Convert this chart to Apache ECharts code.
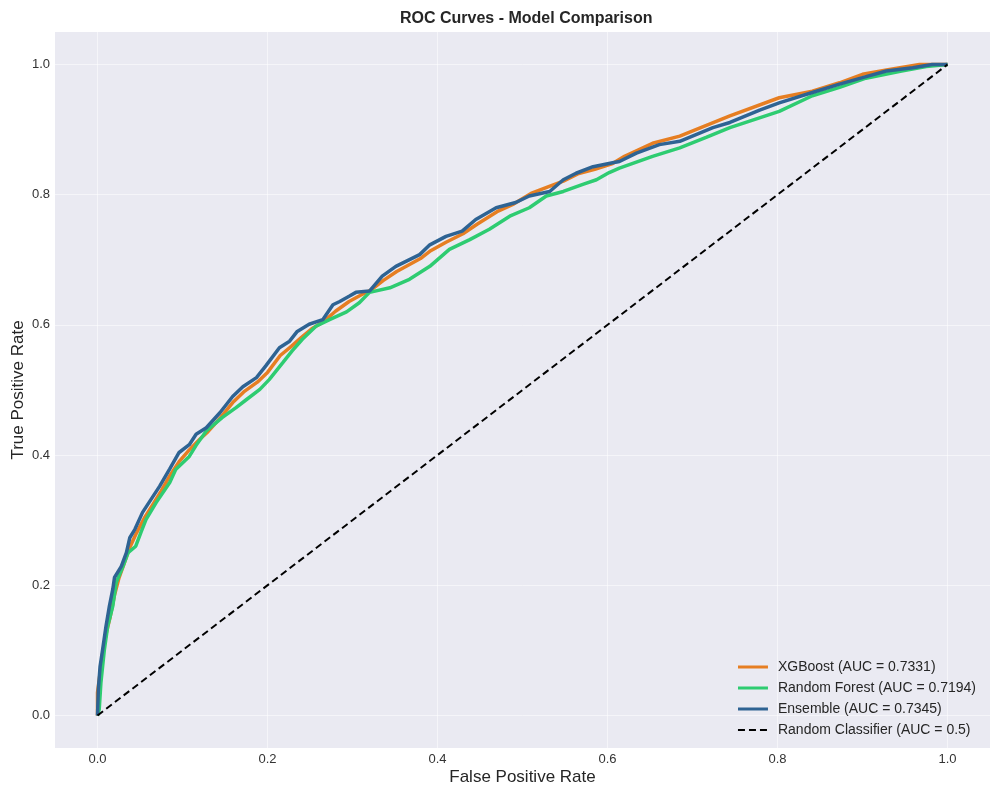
<!DOCTYPE html>
<html>
<head>
<meta charset="utf-8">
<script src="https://cdn.jsdelivr.net/npm/echarts@6/dist/echarts.min.js"></script>
<style>
  html, body { margin: 0; padding: 0; background: #fff; }
  #roc { width: 1000px; height: 798px; }
</style>
</head>
<body>
<div id="roc"></div>
<script>
// values: [fpr, tpr]
var xgbPoints = [
    [0, 0], [0, 0.035], [0.003, 0.065], [0.006, 0.095], [0.010, 0.125], [0.015, 0.152],
    [0.020, 0.185], [0.025, 0.21], [0.032, 0.236], [0.038, 0.258], [0.045, 0.278],
    [0.055, 0.303], [0.065, 0.324], [0.075, 0.345], [0.085, 0.368], [0.096, 0.39],
    [0.108, 0.408], [0.12, 0.424], [0.13, 0.436], [0.145, 0.458], [0.16, 0.482],
    [0.172, 0.497], [0.188, 0.512], [0.2, 0.527], [0.215, 0.553], [0.228, 0.567],
    [0.24, 0.581], [0.252, 0.594], [0.265, 0.604], [0.28, 0.621], [0.296, 0.636],
    [0.31, 0.646], [0.322, 0.654], [0.336, 0.668], [0.352, 0.682], [0.38, 0.702],
    [0.392, 0.714], [0.41, 0.727], [0.43, 0.74], [0.447, 0.755], [0.47, 0.774],
    [0.49, 0.786], [0.51, 0.802], [0.53, 0.812], [0.548, 0.821], [0.565, 0.832],
    [0.585, 0.839], [0.606, 0.848], [0.62, 0.859], [0.653, 0.879], [0.685, 0.89],
    [0.744, 0.921], [0.802, 0.949], [0.841, 0.959], [0.873, 0.972], [0.9, 0.985],
    [0.93, 0.992], [0.967, 1.0], [1, 1]
];
var rfPoints = [
    [0, 0], [0.002, 0.009], [0.004, 0.05], [0.008, 0.10], [0.012, 0.137], [0.018, 0.168],
    [0.022, 0.204], [0.030, 0.229], [0.036, 0.25], [0.045, 0.26], [0.051, 0.281],
    [0.057, 0.301], [0.069, 0.327], [0.085, 0.358], [0.092, 0.378], [0.1, 0.388],
    [0.108, 0.398], [0.116, 0.415], [0.128, 0.437], [0.147, 0.458], [0.163, 0.473],
    [0.175, 0.485], [0.191, 0.501], [0.202, 0.516], [0.218, 0.542], [0.229, 0.56],
    [0.241, 0.578], [0.257, 0.598], [0.273, 0.608], [0.293, 0.62], [0.308, 0.634],
    [0.32, 0.65], [0.344, 0.657], [0.367, 0.67], [0.391, 0.69], [0.414, 0.716],
    [0.438, 0.731], [0.461, 0.747], [0.485, 0.767], [0.508, 0.78], [0.528, 0.798],
    [0.548, 0.805], [0.571, 0.816], [0.587, 0.823], [0.602, 0.834], [0.614, 0.841],
    [0.653, 0.859], [0.685, 0.872], [0.716, 0.888], [0.744, 0.903], [0.802, 0.928],
    [0.841, 0.952], [0.873, 0.965], [0.904, 0.979], [0.946, 0.99], [0.975, 0.997], [1, 1]
];
var ensPoints = [
    [0, 0], [0.001, 0.04], [0.003, 0.075], [0.006, 0.101], [0.010, 0.137], [0.014, 0.168],
    [0.018, 0.194], [0.020, 0.212], [0.028, 0.229], [0.034, 0.25], [0.038, 0.273],
    [0.044, 0.286], [0.053, 0.312], [0.063, 0.332], [0.073, 0.352], [0.085, 0.379],
    [0.096, 0.404], [0.108, 0.416], [0.116, 0.432], [0.128, 0.442], [0.144, 0.465],
    [0.159, 0.49], [0.171, 0.505], [0.187, 0.519], [0.198, 0.537], [0.214, 0.565],
    [0.226, 0.575], [0.235, 0.59], [0.249, 0.601], [0.265, 0.608], [0.277, 0.631],
    [0.285, 0.636], [0.296, 0.644], [0.304, 0.65], [0.32, 0.652], [0.335, 0.675],
    [0.351, 0.69], [0.379, 0.708], [0.391, 0.723], [0.41, 0.736], [0.429, 0.744],
    [0.445, 0.762], [0.469, 0.78], [0.492, 0.788], [0.508, 0.798], [0.532, 0.805],
    [0.548, 0.823], [0.563, 0.833], [0.583, 0.843], [0.606, 0.849], [0.614, 0.851],
    [0.634, 0.864], [0.661, 0.877], [0.685, 0.882], [0.724, 0.903], [0.744, 0.911],
    [0.779, 0.93], [0.802, 0.941], [0.841, 0.957], [0.873, 0.97], [0.9, 0.98],
    [0.928, 0.99], [0.959, 0.995], [0.982, 1.0], [1, 1]
];
var randomPoints = [[0, 0], [1, 1]];
var tickValues = [0, 0.2, 0.4, 0.6, 0.8, 1.0];
var seriesNames = ['XGBoost (AUC = 0.7331)', 'Random Forest (AUC = 0.7194)', 'Ensemble (AUC = 0.7345)', 'Random Classifier (AUC = 0.5)'];

var font = 'Liberation Sans, Arial, sans-serif';

function valueAxis(name, gap, rotate) {
    return {
        type: 'value',
        min: -0.05,
        max: 1.05,
        name: name,
        nameLocation: 'middle',
        nameGap: gap,
        nameRotate: rotate,
        nameMoveOverlap: false,
        nameTextStyle: {fontFamily: font, fontSize: 17, color: '#262626'},
        axisLine: {show: false},
        axisTick: {show: false, customValues: tickValues},
        axisLabel: {
            customValues: tickValues,
            fontFamily: font,
            fontSize: 13,
            color: '#333',
            margin: 5,
            formatter: function (v) { return v.toFixed(1); }
        },
        splitLine: {show: true, lineStyle: {color: 'rgba(255,255,255,0.5)', width: 1}}
    };
}

function curve(name, points, color) {
    return {
        name: name,
        type: 'line',
        data: points,
        symbol: 'none',
        lineStyle: {color: color, width: 3.5},
        itemStyle: {color: color},
        animation: false
    };
}

var myChart = echarts.init(document.getElementById('roc'), null, {renderer: 'canvas'});
myChart.setOption({
    backgroundColor: '#fff',
    title: {
        text: 'ROC Curves - Model Comparison',
        left: 395,
        top: 6,
        textStyle: {fontFamily: font, fontSize: 16, fontWeight: 'bold', color: '#262626'}
    },
    grid: {
        left: 55, right: 10, top: 32, bottom: 50,
        outerBoundsMode: 'none',
        containLabel: false,
        show: true,
        backgroundColor: '#eaeaf2',
        borderWidth: 0
    },
    legend: {
        orient: 'vertical',
        right: 19,
        bottom: 56,
        itemWidth: 30,
        itemHeight: 10,
        itemGap: 7,
        itemStyle: {opacity: 0},
        textStyle: {fontFamily: font, fontSize: 14, color: '#262626', padding: [0, 0, 0, 5]},
        data: [
            {name: seriesNames[0], lineStyle: {width: 3}},
            {name: seriesNames[1], lineStyle: {width: 3}},
            {name: seriesNames[2], lineStyle: {width: 3}},
            {name: seriesNames[3], lineStyle: {width: 2}}
        ]
    },
    xAxis: valueAxis('False Positive Rate', 21, 0),
    yAxis: valueAxis('True Positive Rate', 28, 90),
    series: [
        curve(seriesNames[0], xgbPoints, '#e67e22'),
        curve(seriesNames[1], rfPoints, '#2ecc71'),
        curve(seriesNames[2], ensPoints, '#2e6393'),
        {
            name: seriesNames[3],
            type: 'line',
            data: randomPoints,
            symbol: 'none',
            lineStyle: {color: '#000', width: 2, type: [7, 4]},
            itemStyle: {color: '#000'},
            animation: false
        }
    ]
});
</script>
</body>
</html>
